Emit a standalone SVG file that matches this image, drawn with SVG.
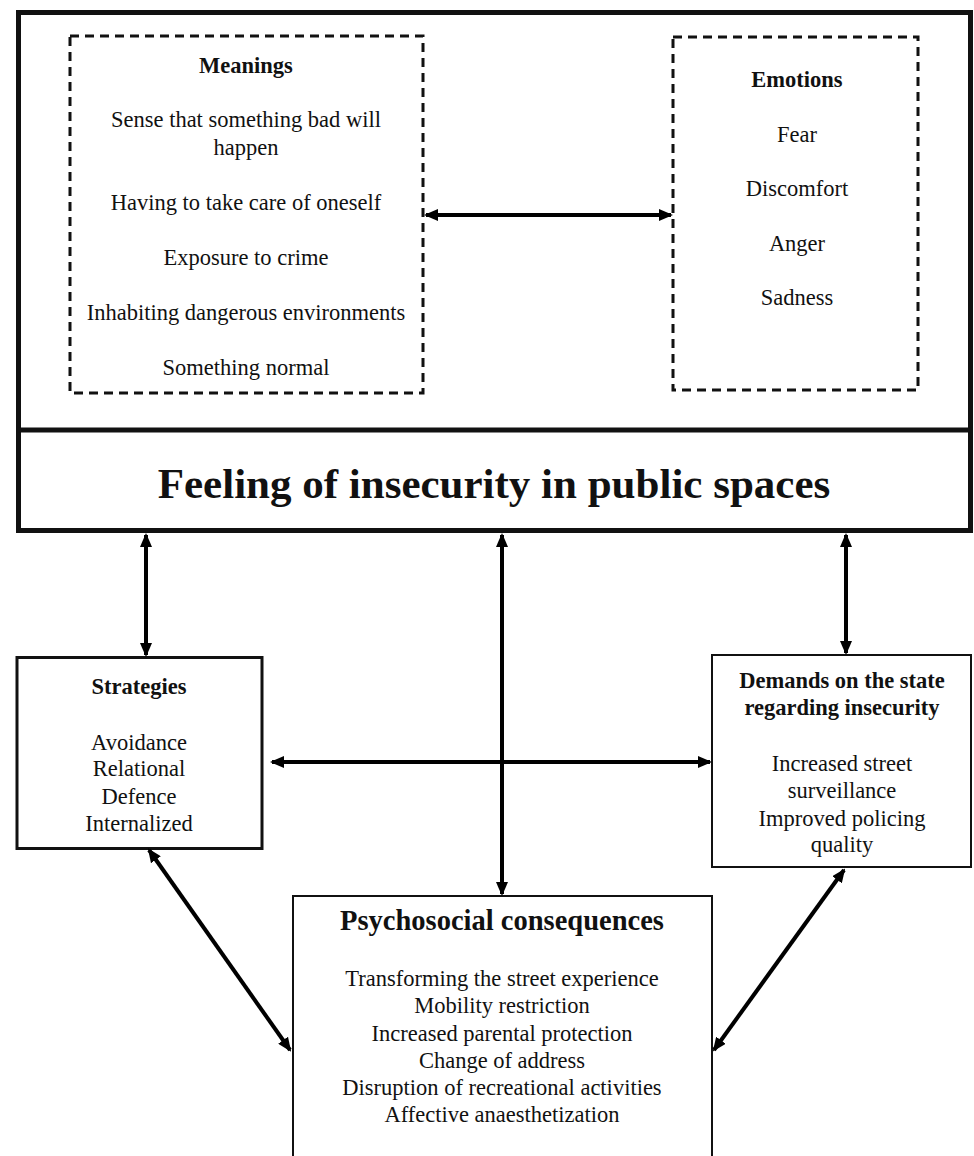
<svg xmlns="http://www.w3.org/2000/svg" width="974" height="1156" viewBox="0 0 974 1156">
<defs>
<marker id="ah" viewBox="0 0 14 12" refX="12" refY="6" markerWidth="14" markerHeight="12" markerUnits="userSpaceOnUse" orient="auto-start-reverse">
<path d="M0,0 L14,6 L0,12 z" fill="#000"/>
</marker>
</defs>
<style>
text{font-family:'Liberation Serif','Tinos','DejaVu Serif',serif;font-size:22.5px;fill:#111;text-anchor:middle}
.b{font-weight:bold}
.dash{fill:none;stroke:#111;stroke-width:3;stroke-dasharray:9 6}
.box{fill:#fff;stroke:#111}
.c{stroke:#000;stroke-width:4;fill:none;marker-start:url(#ah);marker-end:url(#ah)}
</style>
<rect width="974" height="1156" fill="#fff"/>

<g id="outer">
<rect x="18.5" y="12.5" width="952" height="518" fill="none" stroke="#111" stroke-width="5"/>
<line x1="18" y1="430" x2="971" y2="430" stroke="#111" stroke-width="5"/>
</g>

<g id="meanings">
<rect class="dash" x="70" y="36" width="353" height="357"/>
<text class="b" x="246" y="73">Meanings</text>
<text x="246" y="127">Sense that something bad will</text>
<text x="246" y="155">happen</text>
<text x="246" y="210">Having to take care of oneself</text>
<text x="246" y="265">Exposure to crime</text>
<text x="246" y="320">Inhabiting dangerous environments</text>
<text x="246" y="375">Something normal</text>
</g>

<g id="emotions">
<rect class="dash" x="673" y="37" width="245" height="353"/>
<text class="b" x="797" y="87">Emotions</text>
<text x="797" y="142">Fear</text>
<text x="797" y="196">Discomfort</text>
<text x="797" y="251">Anger</text>
<text x="797" y="305">Sadness</text>
</g>

<g id="feeling">
<text class="b" x="494" y="498" style="font-size:43px">Feeling of insecurity in public spaces</text>
</g>

<g id="strategies">
<rect class="box" x="17" y="657.5" width="245" height="191" stroke-width="3"/>
<text class="b" x="139" y="694">Strategies</text>
<text x="139" y="750">Avoidance</text>
<text x="139" y="776">Relational</text>
<text x="139" y="804">Defence</text>
<text x="139" y="831">Internalized</text>
</g>

<g id="demands">
<rect class="box" x="712" y="655" width="259" height="212" stroke-width="2"/>
<text class="b" x="842" y="688">Demands on the state</text>
<text class="b" x="842" y="715">regarding insecurity</text>
<text x="842" y="771">Increased street</text>
<text x="842" y="798">surveillance</text>
<text x="842" y="826">Improved policing</text>
<text x="842" y="852">quality</text>
</g>

<g id="psychosocial">
<rect class="box" x="293" y="896" width="419" height="280" stroke-width="2"/>
<text class="b" x="502" y="930" style="font-size:28.5px">Psychosocial consequences</text>
<text x="502" y="986">Transforming the street experience</text>
<text x="502" y="1013">Mobility restriction</text>
<text x="502" y="1041">Increased parental protection</text>
<text x="502" y="1068">Change of address</text>
<text x="502" y="1095">Disruption of recreational activities</text>
<text x="502" y="1122">Affective anaesthetization</text>
</g>

<g id="connectors">
<line class="c" x1="426" y1="215" x2="671" y2="215"/>
<line class="c" x1="146" y1="535" x2="146" y2="655"/>
<line class="c" x1="502" y1="535" x2="502" y2="894"/>
<line class="c" x1="846" y1="535" x2="846" y2="653"/>
<line class="c" x1="272" y1="762" x2="710" y2="762"/>
<line class="c" x1="149" y1="850" x2="290" y2="1050"/>
<line class="c" x1="844" y1="870" x2="714" y2="1050"/>
</g>
</svg>
